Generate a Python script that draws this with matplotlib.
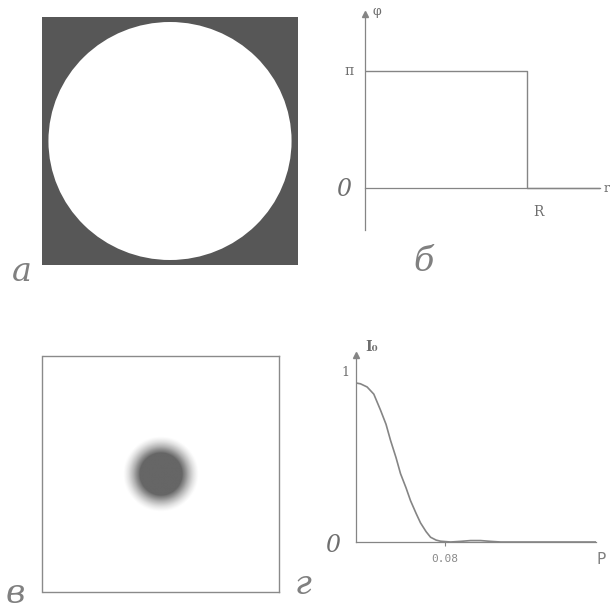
"""Four-panel figure: aperture, phase step, focal spot and its radial profile."""

import numpy as np
import matplotlib.pyplot as plt
from matplotlib.patches import Circle

W, H = 613, 613

# panel a: square plate with a circular aperture (units of R)
aperture_r = 1.0
plate_half_x = 1.053
plate_half_y = 1.042

# panel b: phase step, phi = pi inside R, 0 outside
step_r = [0.0, 1.0, 1.0, 1.45]
step_phi = [np.pi, np.pi, 0.0, 0.0]

# panel d: radial intensity profile I0(rho)
rho = [0.0, 0.004, 0.010, 0.016, 0.022, 0.027, 0.031, 0.036, 0.040, 0.045,
       0.049, 0.054, 0.058, 0.063, 0.067, 0.072, 0.076, 0.085, 0.094, 0.103,
       0.112, 0.121, 0.130, 0.215]
intensity = [1.0, 0.995, 0.975, 0.93, 0.83, 0.74, 0.64, 0.53, 0.43, 0.34,
             0.26, 0.18, 0.12, 0.065, 0.03, 0.012, 0.005, 0.0, 0.004, 0.009,
             0.009, 0.004, 0.0, 0.0]
rho_tick = [0.08]
rho_tick_labels = ["0.08"]

INK = "#6e6e6e"
LINE = "#858585"


def px_axes(fig, x0, y0, x1, y1):
    return fig.add_axes([x0 / W, 1 - y1 / H, (x1 - x0) / W, (y1 - y0) / H])


def px_text(fig, x, y, s, **kw):
    kw.setdefault("color", INK)
    kw.setdefault("ha", "center")
    kw.setdefault("va", "center")
    fig.text(x / W, 1 - y / H, s, **kw)


fig = plt.figure(figsize=(W / 100, H / 100), dpi=100)

# --- a: aperture
ax_a = px_axes(fig, 42, 17, 298, 265)
ax_a.set_facecolor("#575757")
ax_a.add_patch(Circle((0, 0), aperture_r, color="white", lw=0))
ax_a.set_xlim(-plate_half_x, plate_half_x)
ax_a.set_ylim(-plate_half_y, plate_half_y)
ax_a.set_xticks([])
ax_a.set_yticks([])
for s in ax_a.spines.values():
    s.set_visible(False)
px_text(fig, 22, 272, "а", fontsize=24, style="italic", family="DejaVu Serif",
        color="#808080")

# --- b: phase profile
ax_b = px_axes(fig, 365, 14, 600, 230)
ax_b.plot(step_r, step_phi, color=LINE, lw=1.0)
ax_b.set_xlim(0, 1.45)
ax_b.set_ylim(-(42 / 117) * np.pi, (174 / 117) * np.pi)
for name in ("top", "right"):
    ax_b.spines[name].set_visible(False)
for name in ("left", "bottom"):
    ax_b.spines[name].set_position(("data", 0))
    ax_b.spines[name].set_color(LINE)
    ax_b.spines[name].set_linewidth(0.9)
ax_b.set_xticks([])
ax_b.set_yticks([])
ax_b.plot(0, (174 / 117) * np.pi, marker="^", ms=4, color=LINE, clip_on=False)
px_text(fig, 377, 12, "φ", fontsize=9, family="DejaVu Serif")
px_text(fig, 349, 71, "π", fontsize=10, family="DejaVu Serif")
px_text(fig, 344, 190, "0", fontsize=17, style="italic", family="DejaVu Serif")
px_text(fig, 538, 212, "R", fontsize=10, family="DejaVu Serif")
px_text(fig, 607, 188, "r", fontsize=9, family="DejaVu Serif")
px_text(fig, 424, 262, "б", fontsize=24, style="italic", family="DejaVu Serif",
        color="#808080")

# --- c: focal spot (built from the radial profile)
ax_c = px_axes(fig, 40, 356, 281, 592)
extent = 0.21
g = np.linspace(-extent, extent, 241)
xx, yy = np.meshgrid(g, g)
rr = np.hypot(xx, yy)
spot = np.interp(rr, rho, intensity)
shade = 1 - 0.6 * np.clip((spot - 0.03) * 2.2, 0, 1)
ax_c.imshow(shade, cmap="gray", vmin=0, vmax=1, extent=[-extent, extent, -extent, extent],
            interpolation="bilinear")
ax_c.set_xticks([])
ax_c.set_yticks([])
for s in ax_c.spines.values():
    s.set_color("#8a8a8a")
    s.set_linewidth(1.0)
px_text(fig, 15, 594, "в", fontsize=24, style="italic", family="DejaVu Serif",
        color="#808080")

# --- d: radial intensity profile
ax_d = px_axes(fig, 356, 355, 596, 542)
ax_d.plot(rho, intensity, color=LINE, lw=1.2)
ax_d.set_xlim(0, 0.2157)
ax_d.set_ylim(0, 187 / 159)
for name in ("top", "right"):
    ax_d.spines[name].set_visible(False)
for name in ("left", "bottom"):
    ax_d.spines[name].set_color(LINE)
    ax_d.spines[name].set_linewidth(0.9)
ax_d.set_xticks(rho_tick)
ax_d.set_xticklabels(rho_tick_labels, fontsize=8, color="#8a8a8a", family="DejaVu Sans Mono")
ax_d.tick_params(axis="x", length=3, color=LINE, pad=6)
ax_d.set_yticks([])
ax_d.plot(0, 187 / 159, marker="^", ms=4, color=LINE, clip_on=False)
px_text(fig, 372, 347, "I₀", fontsize=10, weight="bold", family="DejaVu Serif")
px_text(fig, 345, 373, "1", fontsize=9, family="DejaVu Serif")
px_text(fig, 333, 545, "0", fontsize=17, style="italic", family="DejaVu Serif")
px_text(fig, 601, 560, "P", fontsize=11, family="DejaVu Sans", color="#808080")
px_text(fig, 303, 585, "г", fontsize=24, style="italic", family="DejaVu Serif",
        color="#808080")

fig.savefig("out.png", dpi=100, facecolor="white")
